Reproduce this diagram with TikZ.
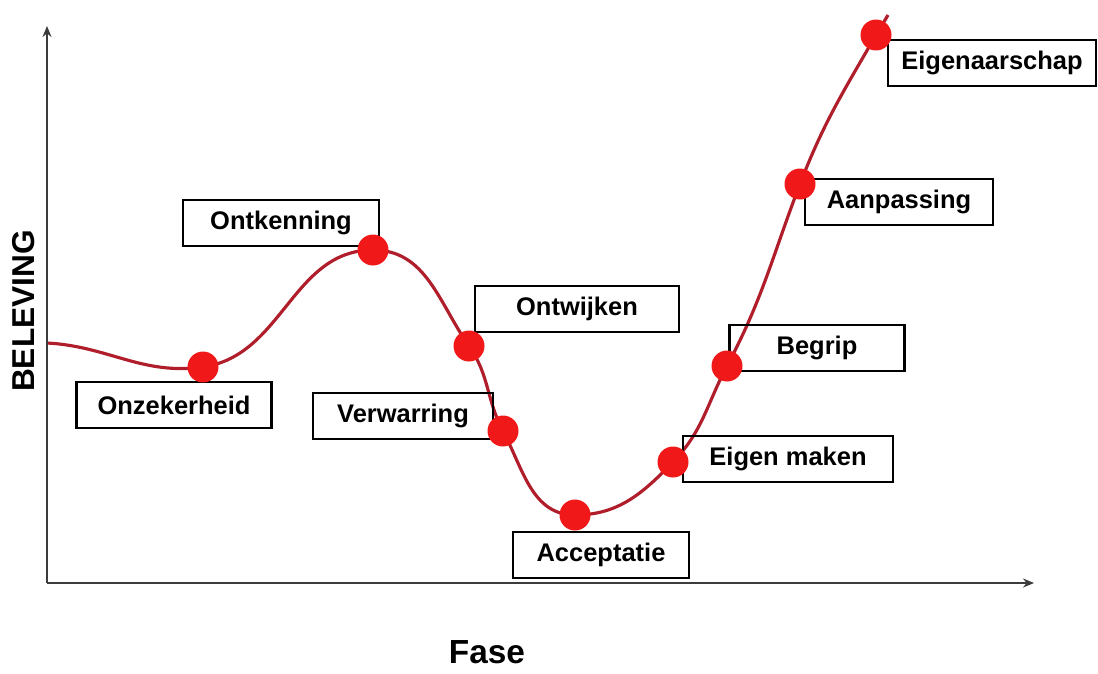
\documentclass[tikz,border=0pt]{standalone}
\usepackage{fontspec}
\setmainfont{Liberation Sans}
\usepackage{xcolor}
\usetikzlibrary{arrows.meta,backgrounds}
\definecolor{curveRed}{RGB}{176,30,44}
\definecolor{dotRed}{RGB}{240,24,24}
\definecolor{axisGray}{RGB}{60,60,60}

\begin{document}
\begin{tikzpicture}[x=0.02cm,y=0.02cm,
    tag/.style={draw=black,line width=1.3pt,minimum height=0.92cm,inner sep=2pt,
      font=\fontsize{14.5}{16}\selectfont\bfseries},
    pt/.style={circle,fill=dotRed,minimum size=0.62cm,inner sep=0pt},
    ax/.style={-{Stealth[length=2.2mm,width=1.8mm]},draw=axisGray},
    trend/.style={draw=curveRed,line width=1.8pt}
  ]
  \useasboundingbox (0,-673) rectangle (1098,0);

  % axes
  \coordinate (orig) at (47,-583);
  \coordinate (ytop) at (47,-26);
  \coordinate (xend) at (1034,-583);
  \draw[ax,line width=1pt] (orig) -- (ytop);
  \draw[ax,line width=1.6pt] (orig) -- (xend);
  \node[rotate=90,font=\fontsize{18}{20}\selectfont\bfseries] (yl) at (24,-311) {BELEVING};
  \node[font=\fontsize{19}{21}\selectfont\bfseries] (xl) at (487,-652) {Fase};

  % labels
  \node[tag,minimum width=3.9cm]  (onzek) at (174,-405) {Onzekerheid};
  \node[tag,minimum width=3.92cm] (ontke) at (281,-223) {Ontkenning};
  \node[tag,minimum width=4.08cm] (ontwi) at (577,-309) {Ontwijken};
  \node[tag,minimum width=3.6cm]  (verwa) at (403,-416) {Verwarring};
  \node[tag,minimum width=3.52cm] (accep) at (601,-555) {Acceptatie};
  \node[tag,minimum width=4.2cm]  (eigen) at (788,-459) {Eigen maken};
  \node[tag,minimum width=3.5cm]  (begri) at (817,-348) {Begrip};
  \node[tag,minimum width=3.76cm] (aanpa) at (899,-202) {Aanpassing};
  \node[tag,minimum width=4.16cm] (eigaa) at (992,-63)  {Eigenaarschap};

  % phase points
  \node[pt] (d1) at (203,-367) {};
  \node[pt] (d2) at (373,-250) {};
  \node[pt] (d3) at (469,-346) {};
  \node[pt] (d4) at (503,-431) {};
  \node[pt] (d5) at (575,-515) {};
  \node[pt] (d6) at (673,-462) {};
  \node[pt] (d7) at (727,-366) {};
  \node[pt] (d8) at (800,-184) {};
  \node[pt] (d9) at (876,-35)  {};
  \coordinate (cstart) at (47,-343);
  \coordinate (cend) at (888,-15);

  \begin{scope}[on background layer]
    \draw[trend] (cstart) to[out=-3,in=188] (d1.center)
      to[out=8,in=180] (d2.center)
      to[out=0,in=125] (d3.center)
      to[out=-55,in=118] (d4.center)
      to[out=-62,in=180] (d5.center)
      to[out=0,in=226] (d6.center)
      to[out=46,in=242] (d7.center)
      to[out=62,in=249] (d8.center)
      to[out=69,in=240] (d9.center)
      to[out=60,in=240] (cend);
  \end{scope}
\end{tikzpicture}
\end{document}
